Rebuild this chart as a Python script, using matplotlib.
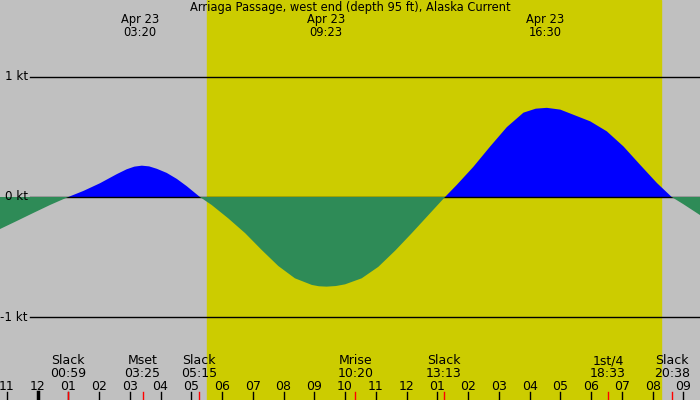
import matplotlib.pyplot as plt
import matplotlib.transforms as mtrans
import numpy as np

# current speed in knots (hours from midnight Apr 23)
curve_hours = [-1.22, -0.68, -0.14, 0.41, 1.0, 1.49, 2.03, 2.58, 2.9, 3.15, 3.39,
               3.63, 3.88, 4.2, 4.53, 4.85, 5.28, 5.66, 6.2, 6.75, 7.29, 7.83,
               8.37, 8.92, 9.15, 9.4, 9.7, 10.0, 10.54, 11.08, 11.63, 12.17, 12.71,
               13.25, 13.63, 14.17, 14.72, 15.26, 15.8, 16.2, 16.56, 17.0, 17.42,
               17.97, 18.51, 19.05, 19.59, 20.14, 20.62, 21.0, 21.54]
curve_kt = [-0.266, -0.20, -0.133, -0.066, 0.0, 0.05, 0.114, 0.19, 0.23, 0.252, 0.26,
            0.254, 0.234, 0.20, 0.15, 0.09, 0.0, -0.066, -0.177, -0.30, -0.44, -0.573,
            -0.675, -0.73, -0.741, -0.744, -0.739, -0.725, -0.675, -0.58, -0.445, -0.30, -0.15,
            0.0, 0.10, 0.25, 0.42, 0.58, 0.70, 0.733, 0.74, 0.725, 0.683,
            0.628, 0.545, 0.42, 0.268, 0.116, 0.0, -0.06, -0.15]

title = "Arriaga Passage, west end (depth 95 ft), Alaska Current"

# max current labels at the top
peak_hours = [3.33, 9.38, 16.5]
peak_labels = ["Apr 23\n03:20", "Apr 23\n09:23", "Apr 23\n16:30"]

# slack / moon events at the bottom
event_names = ["Slack", "Mset", "Slack", "Mrise", "Slack", "1st/4", "Slack"]
event_times = ["00:59", "03:25", "05:15", "10:20", "13:13", "18:33", "20:38"]

hour_ticks = list(range(-1, 22))
kt_levels = [1, 0, -1]
daylight = (5.51, 20.28)


def to_hours(s):
    hh, mm = s.split(":")
    return int(hh) + int(mm) / 60


fig = plt.figure(figsize=(7, 4), dpi=100)
ax = fig.add_axes([0, 0, 1, 1])
ax.set_xlim(-1.22, 21.54)
ax.set_ylim(-1.685, 1.635)
ax.axis("off")
fig.patch.set_facecolor("#c0c0c0")

ax.axvspan(daylight[0], daylight[1], color="#cccc00", zorder=0.5)

h = np.array(curve_hours)
v = np.array(curve_kt)
ax.fill_between(h, 0, v, where=v >= 0, interpolate=True, color="#0000ff", lw=0, zorder=1)
ax.fill_between(h, 0, v, where=v <= 0, interpolate=True, color="#2e8b57", lw=0, zorder=3)

lt = mtrans.blended_transform_factory(ax.transAxes, ax.transData)
for k in kt_levels:
    ax.axhline(k, xmin=30 / 700, xmax=1, color="black", lw=1, zorder=2)
    ax.text(28 / 700, k, "%d kt" % k, transform=lt, ha="right", va="center", fontsize=8.6, zorder=4)

bt = mtrans.blended_transform_factory(ax.transData, ax.transAxes)
ax.text(0.5, 1 - 7 / 400, title, transform=ax.transAxes, ha="center", va="center", fontsize=8.3)
for x, lab in zip(peak_hours, peak_labels):
    ax.text(x, 1 - 26 / 400, lab, transform=bt, ha="center", va="center", fontsize=8.3, linespacing=1.0)

for t in hour_ticks:
    hr = t % 12
    if hr == 0:
        hr = 12
    ax.text(t, 14 / 400, "%02d" % hr, transform=bt, ha="center", va="center", fontsize=9)
    ax.plot([t, t], [0, 8 / 400], transform=bt, color="black", lw=2.5 if t % 24 == 0 else 1, zorder=5)

for name, tm in zip(event_names, event_times):
    x = to_hours(tm)
    ax.text(x, 33 / 400, name + "\n" + tm, transform=bt, ha="center", va="center", fontsize=9, linespacing=0.95)
    ax.plot([x, x], [0, 8 / 400], transform=bt, color="red", lw=1, zorder=6)

plt.savefig("out.png", dpi=100, facecolor=fig.get_facecolor())
